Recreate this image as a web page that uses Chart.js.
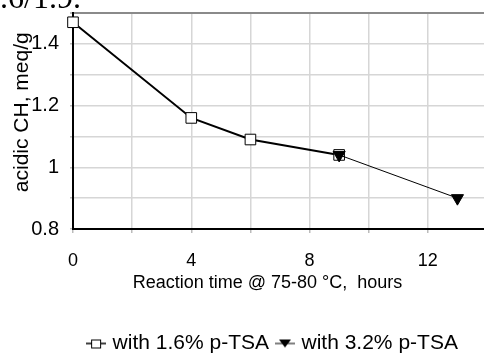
<!DOCTYPE html>
<html lang="en">
<head>
    <meta charset="UTF-8">
    <title>Acidic CH vs reaction time</title>
    <script src="https://cdn.jsdelivr.net/npm/chart.js"></script>
    <style>
        body { margin: 0; background: #fff; overflow: hidden; }
        #wrap { position: relative; width: 484px; height: 354px; overflow: hidden; }
        #chart { position: absolute; left: 0; top: 0; }
        #cut { position: absolute; left: 0; top: -19px; font: 32px 'Liberation Serif', 'Times New Roman', serif;
               line-height: 32px; color: #000; white-space: nowrap; }
    </style>
</head>
<body>
    <div id="wrap">
        <canvas id="chart" width="544" height="372"></canvas>
        <div id="cut">.6/1.9.</div>
    </div>

    <script>
        // data
        const seriesNames = ['with 1.6% p-TSA', 'with 3.2% p-TSA'];
        const timeLow = [0, 4, 6, 9];
        const acidLow = [1.47, 1.16, 1.09, 1.04];
        const timeHigh = [9, 13];
        const acidHigh = [1.04, 0.90];
        const xTickLabels = [0, 4, 8, 12];
        const yTickLabels = [0.8, 1, 1.2, 1.4];

        const font = "'Liberation Sans', Arial, sans-serif";

        // legend icons: a short line with the marker on it, like the original
        function legendIcon(kind) {
            const c = document.createElement('canvas');
            c.width = 20; c.height = 14;
            const g = c.getContext('2d');
            g.strokeStyle = '#000';
            g.lineWidth = kind === 'square' ? 1.5 : 1;
            g.beginPath(); g.moveTo(0, 7); g.lineTo(20, 7); g.stroke();
            if (kind === 'square') {
                g.fillStyle = '#fff'; g.lineWidth = 1;
                g.fillRect(5.5, 3.5, 9, 8); g.strokeRect(5.5, 3.5, 9, 8);
            } else {
                g.fillStyle = '#000';
                g.beginPath(); g.moveTo(4, 3); g.lineTo(16, 3); g.lineTo(10, 11); g.closePath(); g.fill();
            }
            return c;
        }
        const icons = [legendIcon('square'), legendIcon('triangle')];

        const toPoints = (xs, ys) => xs.map((x, i) => ({ x: x, y: ys[i] }));
        const noPad = s => { s.paddingTop = 0; s.paddingBottom = 0; s.paddingLeft = 0; s.paddingRight = 0; };

        // the legend in the original is centred on the whole (wider) chart, not on the plot
        const legendShift = {
            id: 'legendShift',
            afterLayout: chart => { chart.legend.right = chart.width + 4; chart.legend.width = chart.legend.right - chart.legend.left; }
        };

        new Chart(document.getElementById('chart'), {
            type: 'line',
            data: {
                datasets: [{
                    label: seriesNames[0],
                    data: toPoints(timeLow, acidLow),
                    borderColor: '#000',
                    borderWidth: 2,
                    pointStyle: 'rect',
                    pointRadius: 7.5,
                    pointBackgroundColor: '#fff',
                    pointBorderColor: '#000',
                    pointBorderWidth: 1,
                    tension: 0,
                    clip: false,
                    order: 1
                }, {
                    label: seriesNames[1],
                    data: toPoints(timeHigh, acidHigh),
                    borderColor: '#000',
                    borderWidth: 1,
                    pointStyle: 'triangle',
                    rotation: 180,
                    pointRadius: 7,
                    pointBackgroundColor: '#000',
                    pointBorderColor: '#000',
                    pointBorderWidth: 1,
                    tension: 0,
                    clip: false,
                    order: 0
                }]
            },
            options: {
                responsive: false,
                animation: false,
                layout: { padding: { top: 13, right: 57, bottom: 8, left: 0 } },
                plugins: {
                    tooltip: { enabled: false },
                    legend: {
                        position: 'bottom',
                        labels: {
                            color: '#000',
                            font: { family: font, size: 21 },
                            usePointStyle: true,
                            pointStyleWidth: 12,
                            padding: 10,
                            sort: (a, b) => a.datasetIndex - b.datasetIndex,
                            generateLabels: chart => {
                                const items = Chart.defaults.plugins.legend.labels.generateLabels(chart);
                                items.forEach(it => { it.pointStyle = icons[it.datasetIndex]; it.rotation = 0; });
                                return items;
                            }
                        }
                    }
                },
                scales: {
                    x: {
                        type: 'linear',
                        min: 0, max: 14,
                        afterFit: s => { s.height = 94; noPad(s); },
                        ticks: {
                            stepSize: 2,
                            color: '#000',
                            font: { family: font, size: 18 },
                            padding: 17,
                            maxRotation: 0,
                            callback: v => xTickLabels.includes(v) ? String(v) : ''
                        },
                        grid: { color: '#d6d6d6', lineWidth: 1.5, tickLength: 4, tickColor: '#bbb' },
                        border: { color: '#000', width: 2 },
                        title: {
                            display: true,
                            text: 'Reaction time @ 75-80 °C,  hours     ',
                            color: '#000',
                            font: { family: font, size: 18 },
                            padding: { top: 0, bottom: 29 }
                        }
                    },
                    y: {
                        min: 0.8, max: 1.5,
                        afterFit: s => { s.width = 73; noPad(s); },
                        ticks: {
                            stepSize: 0.1,
                            color: '#000',
                            font: { family: font, size: 20 },
                            padding: 11,
                            callback: v => {
                                const r = Math.round(v * 10) / 10;
                                return yTickLabels.includes(r) ? String(r) : '';
                            }
                        },
                        grid: {
                            color: c => (c.tick && Math.round(c.tick.value * 10) === 15) ? '#8a8a8a' : '#d6d6d6',
                            lineWidth: c => (c.tick && Math.round(c.tick.value * 10) === 15) ? 2 : 1.5,
                            tickLength: 3,
                            tickColor: '#bbb'
                        },
                        border: { color: '#000', width: 2 },
                        title: {
                            display: true,
                            text: '   acidic CH, meq/g',
                            color: '#000',
                            font: { family: font, size: 21 },
                            padding: { top: 10, bottom: 0 }
                        }
                    }
                }
            },
            plugins: [legendShift]
        });
    </script>
</body>
</html>
